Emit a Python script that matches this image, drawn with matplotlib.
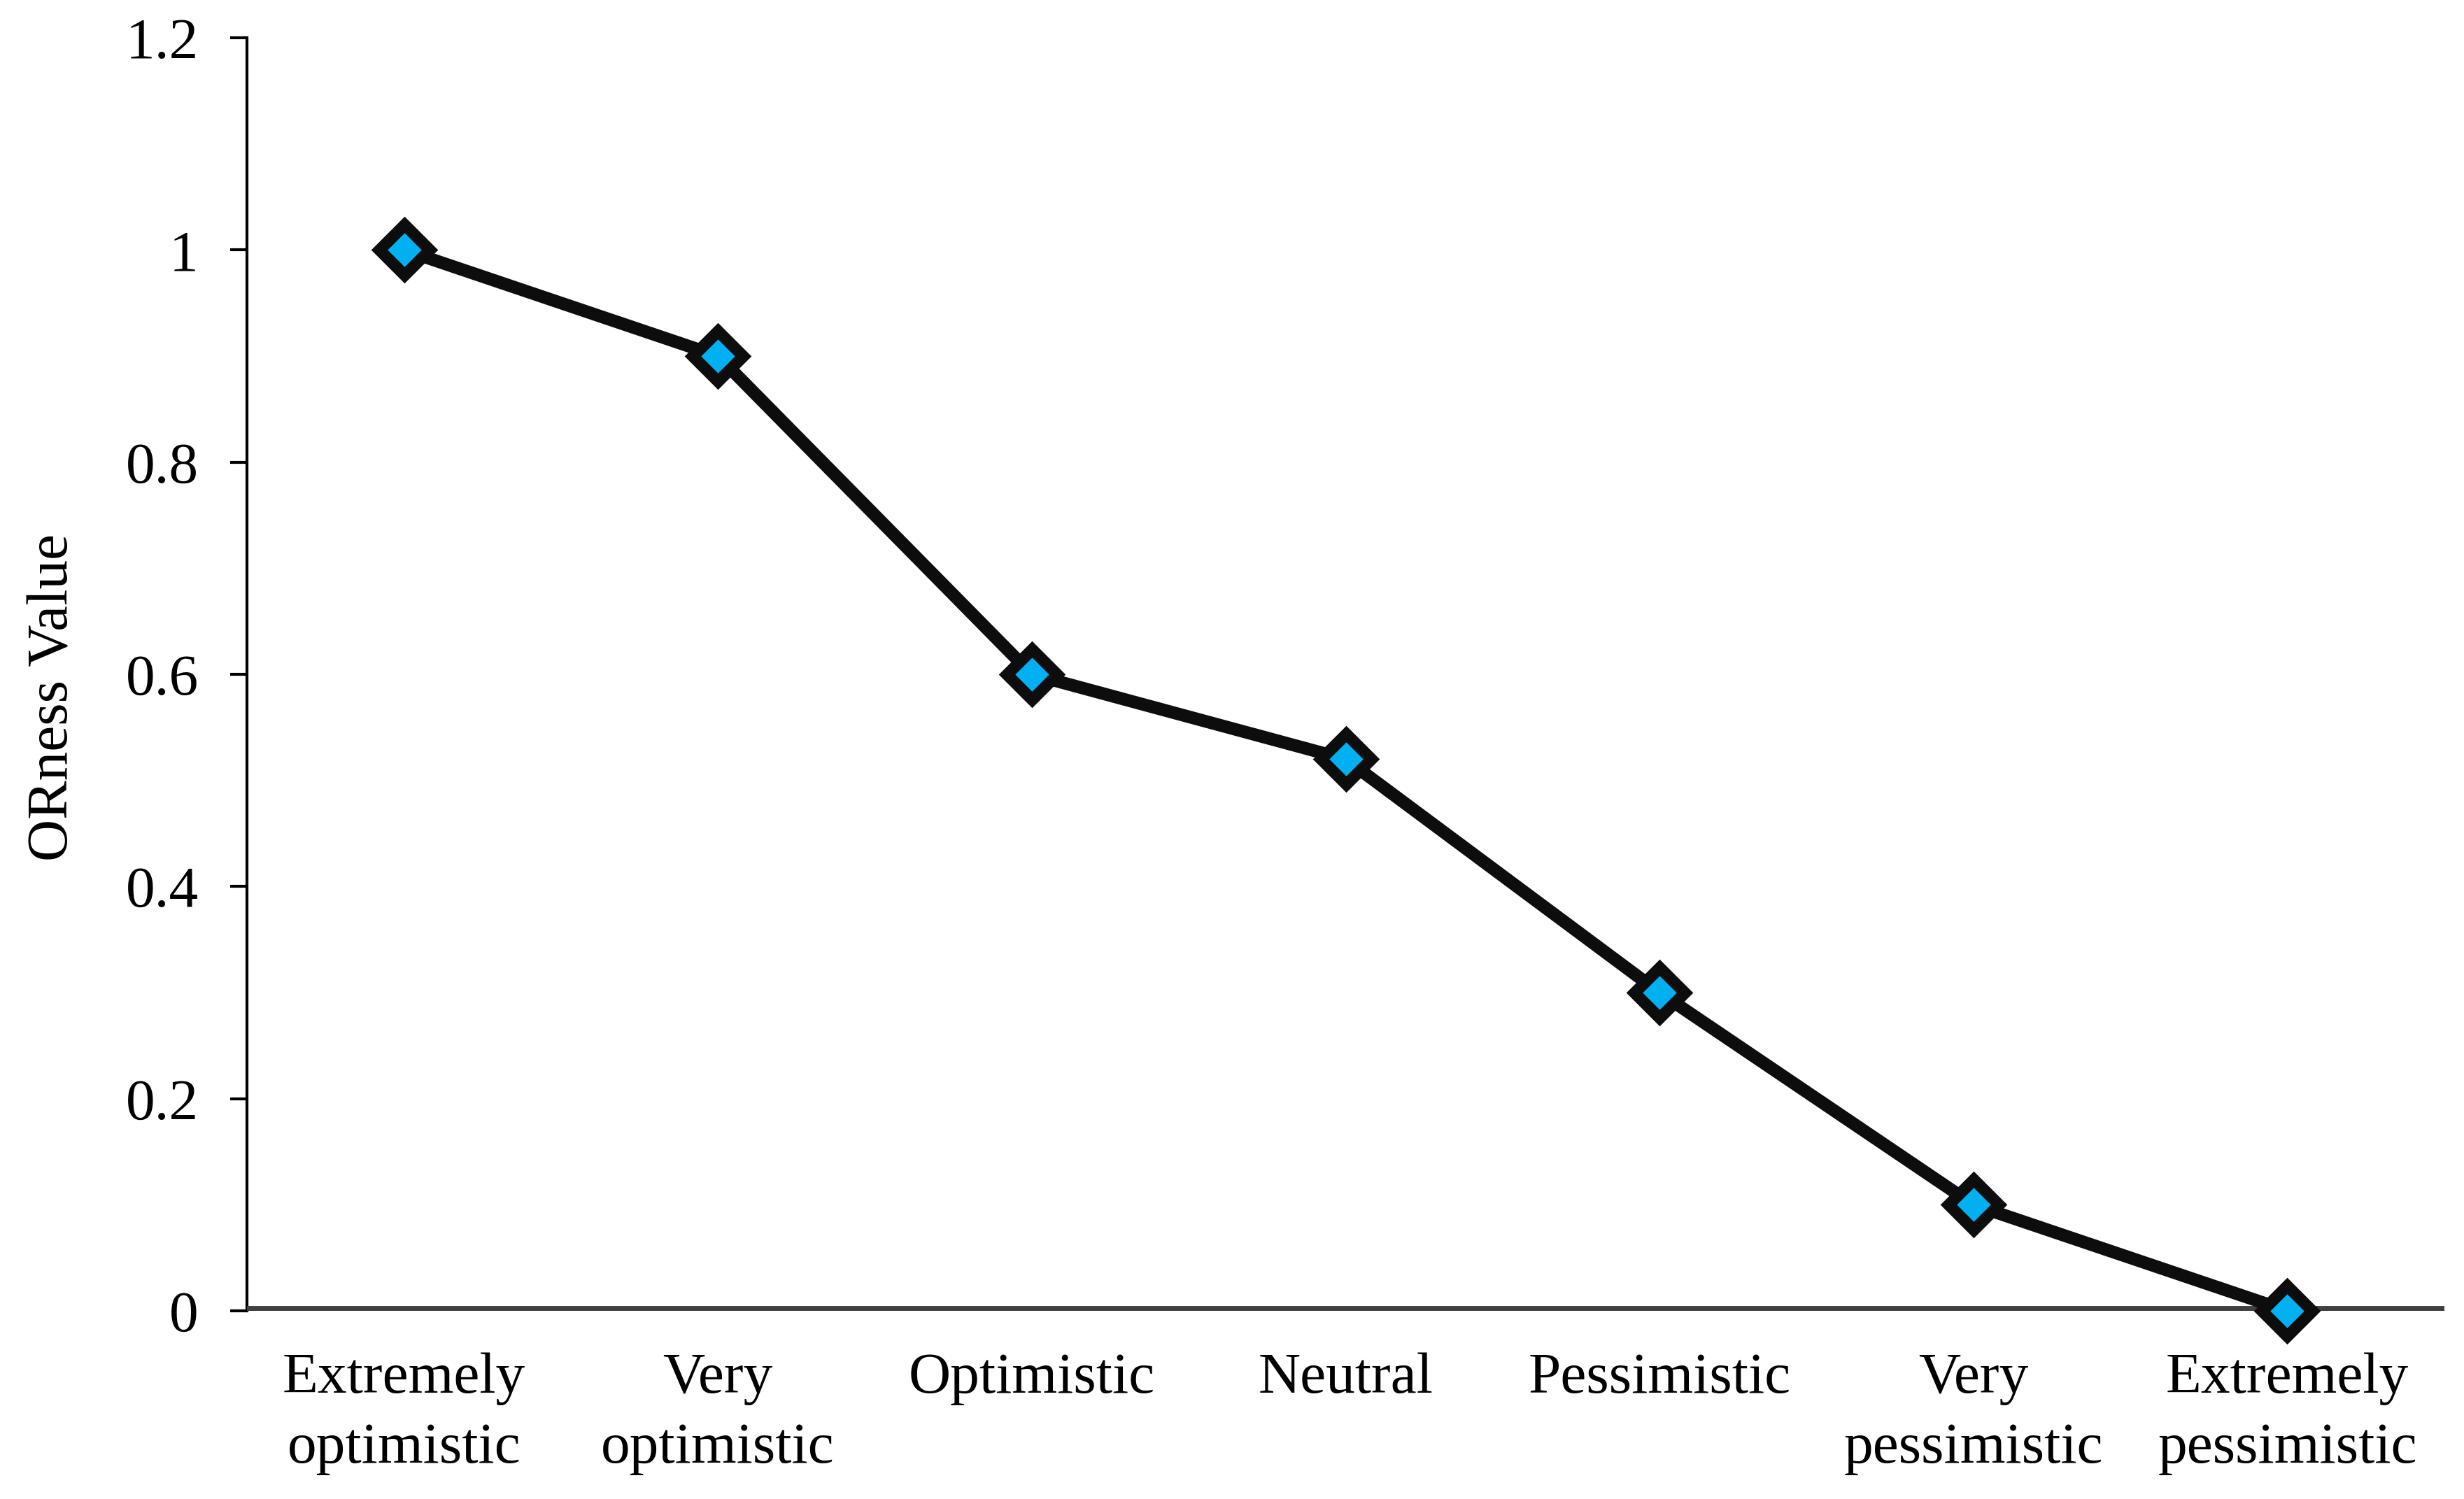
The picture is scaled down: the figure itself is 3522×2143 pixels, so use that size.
import matplotlib

matplotlib.use("Agg")

import matplotlib.pyplot as plt

categories = [
    "Extremely\noptimistic",
    "Very\noptimistic",
    "Optimistic",
    "Neutral",
    "Pessimistic",
    "Very\npessimistic",
    "Extremely\npessimistic",
]
orness = [1.0, 0.9, 0.6, 0.52, 0.3, 0.1, 0.0]
y_ticks = [0, 0.2, 0.4, 0.6, 0.8, 1, 1.2]
y_tick_labels = ["0", "0.2", "0.4", "0.6", "0.8", "1", "1.2"]

plt.rcParams["font.family"] = ["Liberation Serif", "DejaVu Serif"]

fig = plt.figure(figsize=(35.22, 21.43), dpi=100)
ax = fig.add_axes([0.1003, 0.1255, 0.8917, 0.8493])

x = list(range(len(categories)))
ax.plot(
    x,
    orness,
    color="#0d0d0d",
    linewidth=13,
    marker="D",
    markersize=37,
    markerfacecolor="#00B0F0",
    markeredgecolor="#0d0d0d",
    markeredgewidth=12,
    solid_joinstyle="round",
    zorder=5,
    clip_on=False,
)

ax.axhline(0, color="#404040", linewidth=10, zorder=3)

ax.set_xlim(-0.5, len(categories) - 0.5)
ax.set_ylim(0, 1.2)
ax.set_xticks(x)
ax.set_xticklabels(categories, fontsize=60, linespacing=1.42)
ax.set_yticks(y_ticks)
ax.set_yticklabels(y_tick_labels, fontsize=60)

ax.tick_params(axis="x", length=0, pad=43)
ax.tick_params(axis="y", direction="out", length=17, width=3, pad=33, color="black")

for side in ["top", "right", "bottom"]:
    ax.spines[side].set_visible(False)
ax.spines["left"].set_linewidth(3)
ax.spines["left"].set_color("black")

ax.set_ylabel("ORness Value", fontsize=60, va="center")
ax.yaxis.set_label_coords(-0.088, 0.482)

fig.savefig("out.png", dpi=100, facecolor="white")
